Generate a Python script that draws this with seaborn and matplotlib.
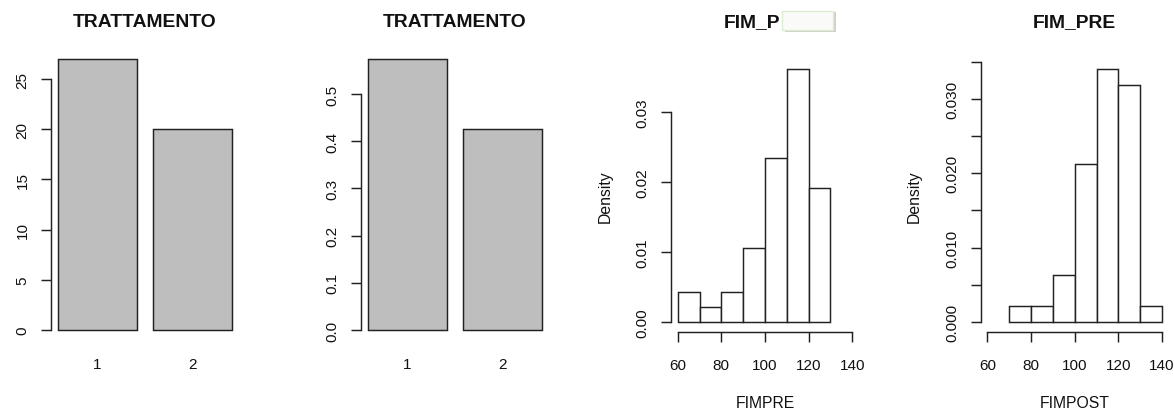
import matplotlib
matplotlib.use("Agg")
import matplotlib.pyplot as plt
from matplotlib.patches import Rectangle
import seaborn as sns

# ---- data -------------------------------------------------------------
treatment_groups = ["1", "2"]
treatment_counts = [27, 20]

fimpre_edges = [60, 70, 80, 90, 100, 110, 120, 130]
fimpre_counts = [2, 1, 2, 5, 11, 17, 9]

fimpost_edges = [70, 80, 90, 100, 110, 120, 130, 140]
fimpost_counts = [1, 1, 3, 10, 16, 15, 1]

hist_ticks = [60, 80, 100, 120, 140]

# ---- style ------------------------------------------------------------
W, H = 1174, 410
sns.set_style("ticks")
plt.rcParams["font.family"] = ["Liberation Sans", "DejaVu Sans"]

LW = 1.05
TICK_FS = 11.0
LABEL_FS = 11.3
TITLE_FS = 13.9
LINE = "#222222"
TEXT = "#111111"
BAR_GREY = "#BEBEBE"

fig = plt.figure(figsize=(W / 100, H / 100), dpi=100)


def px_axes(left, right, top, bottom):
    return fig.add_axes([left / W, 1 - bottom / H, (right - left) / W, (bottom - top) / H])


def style_yaxis(ax, ticks, labels, lo, hi):
    ax.set_yticks(ticks)
    ax.set_yticklabels(labels)
    ax.spines["left"].set_bounds(lo, hi)
    ax.spines["left"].set_color(LINE)
    ax.spines["left"].set_linewidth(LW)
    ax.tick_params(axis="y", length=7.2, width=LW, colors=LINE,
                   labelsize=TICK_FS, pad=13.2, labelcolor=TEXT)
    for lab in ax.get_yticklabels():
        lab.set_rotation(90)
        lab.set_ha("center")
        lab.set_va("center")
    ax.spines[["top", "right"]].set_visible(False)


def title_at(x_px, text, ha="center"):
    fig.text(x_px / W, 1 - 27.3 / H, text, ha=ha, va="baseline",
             fontsize=TITLE_FS, fontweight="bold", color=TEXT)


# ---- bar panels: counts and proportions -------------------------------
proportions = [c / sum(treatment_counts) for c in treatment_counts]

bar_specs = [
    (51.0, treatment_counts, [0, 5, 10, 15, 20, 25], ["0", "5", "10", "15", "20", "25"],
     (-1.08, 28.08), 25),
    (361.0, proportions, [0, .1, .2, .3, .4, .5], ["0.0", "0.1", "0.2", "0.3", "0.4", "0.5"],
     (-0.02298, 0.5975), 0.5),
]
for left, values, yt, ytl, ylim, ytop in bar_specs:
    ax = px_axes(left, left + 187.7, 49.1, 341.8)
    sns.barplot(x=treatment_groups, y=values, color=BAR_GREY, saturation=1,
                edgecolor=LINE, linewidth=LW, width=1 / 1.2, errorbar=None, ax=ax)
    ax.set_xlim(-0.49, 1.49)
    ax.set_ylim(*ylim)
    ax.spines["bottom"].set_visible(False)
    ax.tick_params(axis="x", length=0, labelsize=TICK_FS, pad=11.7, labelcolor=TEXT)
    ax.set_xlabel("")
    ax.set_ylabel("")
    style_yaxis(ax, yt, ytl, 0, ytop)
    title_at(left + 187.7 / 2, "TRATTAMENTO")

# ---- histogram panels -------------------------------------------------
hist_specs = [
    (670.7, fimpre_edges, fimpre_counts, "FIMPRE",
     [0, .01, .02, .03], ["0.00", "0.01", "0.02", "0.03"], 0.03),
    (980.5, fimpost_edges, fimpost_counts, "FIMPOST",
     [0, .005, .01, .015, .02, .025, .03, .035],
     ["0.000", "", "0.010", "", "0.020", "", "0.030", ""], 0.035),
]
for left, edges, counts, xlab, yt, ytl, ytop in hist_specs:
    ax = px_axes(left, left + 188.6, 59.7, 333.1)
    mids = [(a + b) / 2 for a, b in zip(edges[:-1], edges[1:])]
    sns.histplot(x=mids, weights=counts, bins=edges, stat="density",
                 color="white", edgecolor=LINE, linewidth=LW, alpha=1, ax=ax)
    dmax = max(counts) / (sum(counts) * (edges[1] - edges[0]))
    ax.set_ylim(-0.04 * dmax, 1.04 * dmax)
    ax.set_xlim(56.8, 143.2)
    ax.set_xticks(hist_ticks)
    ax.set_xticklabels([str(t) for t in hist_ticks])
    ax.spines["bottom"].set_bounds(60, 140)
    ax.spines["bottom"].set_color(LINE)
    ax.spines["bottom"].set_linewidth(LW)
    ax.tick_params(axis="x", length=7.2, width=LW, colors=LINE,
                   labelsize=TICK_FS, pad=11.2, labelcolor=TEXT)
    style_yaxis(ax, yt, ytl, 0, ytop)
    ax.set_xlabel(xlab, fontsize=LABEL_FS, labelpad=16.6, color=TEXT)
    ax.set_ylabel("Density", fontsize=LABEL_FS, labelpad=16.6, color=TEXT)

title_at(723.3, "FIM_P", ha="left")
title_at(980.5 + 188.6 / 2, "FIM_PRE")

# pasted-over label box in the third title
fig.add_artist(Rectangle((784.5 / W, 1 - 32.6 / H), 51.5 / W, 20.0 / H,
                         transform=fig.transFigure, facecolor="#cfcfcf",
                         edgecolor="none", zorder=10))
fig.add_artist(Rectangle((782.3 / W, 1 - 31.0 / H), 51.0 / W, 18.7 / H,
                         transform=fig.transFigure, facecolor="#fafbf9",
                         edgecolor="#dcedd2", linewidth=1.0, zorder=11))

fig.savefig("out.png", dpi=100, facecolor="white")
